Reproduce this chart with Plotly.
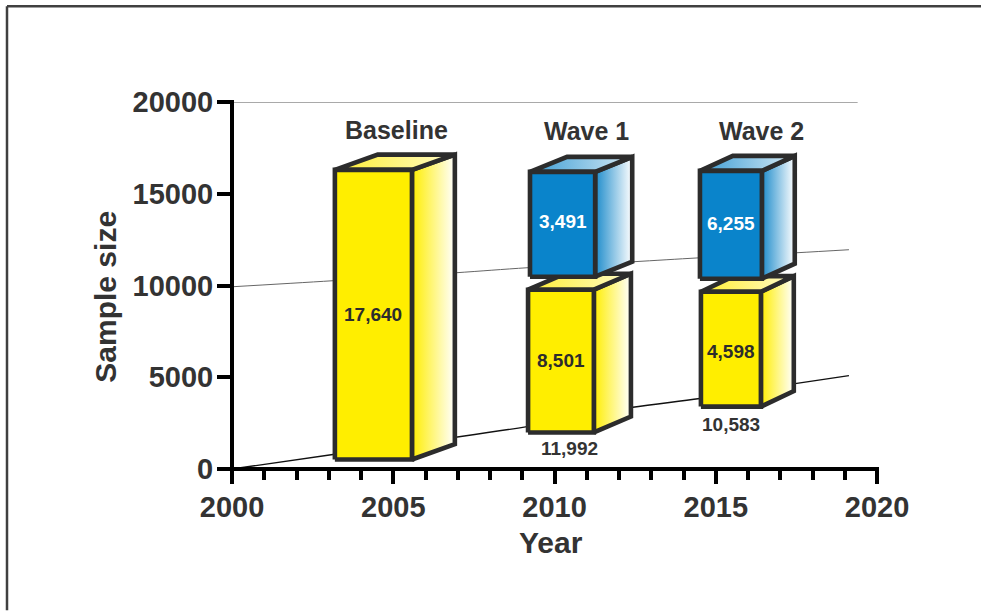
import plotly.graph_objects as go

# Canvas and plot-area placement (pixels)
WIDTH, HEIGHT = 981, 611
LEFT, RIGHT, TOP, BOTTOM = 232, 877, 102, 469.5

# Axis ticks
year_ticks = [2000, 2005, 2010, 2015, 2020]
size_ticks = [0, 5000, 10000, 15000, 20000]
size_tick_labels = ["0", "5000", "10000", "15000", "20000"]

# Receding guide lines of the pseudo-3D floor and walls (year, sample size)
floor_years = [2000, 2003.13, 2009.15, 2012.37, 2014.51, 2017.46, 2019.13]
floor_sizes = [0, 790, 2310, 3350, 3840, 4650, 5090]
mid_years = [2000, 2003.13, 2006.91, 2009.18, 2012.4, 2014.51, 2017.46, 2019.13]
mid_sizes = [9930, 10260, 10690, 10970, 11290, 11510, 11780, 11950]
top_years = [2000, 2019.4]
top_sizes = [20000, 20000]

# Box extents against the axes. The printed counts below are the survey sample
# sizes and are not proportional to the heights of these illustrative boxes.
box_names = ["Baseline", "Wave 1 retained", "Wave 1 new", "Wave 2 retained", "Wave 2 new"]
box_year_start = [2003.19, 2009.18, 2009.24, 2014.54, 2014.51]
box_year_end = [2005.58, 2011.22, 2011.26, 2016.40, 2016.43]
box_size_low = [520, 1990, 10480, 3400, 10370]
box_size_high = [16300, 9770, 16190, 9660, 16245]
box_depth_years = [1.33, 1.15, 1.15, 1.02, 1.02]
box_depth_sizes = [830, 870, 820, 850, 820]
box_kinds = ["yellow", "yellow", "blue", "yellow", "blue"]

# Printed counts inside the boxes and totals underneath
count_labels = ["17,640", "8,501", "3,491", "4,598", "6,255"]
count_sizes = [8400, 5940, 13470, 6390, 13360]
total_labels = ["11,992", "10,583"]
total_years = [2010.45, 2015.48]
total_sizes = [1100, 2450]

# Group headings
group_labels = ["Baseline", "Wave 1", "Wave 2"]
group_years = [2005.1, 2011.0, 2016.43]
group_sizes = [18500, 18400, 18400]

# Axis titles
year_title_at = 2009.89
size_title_at = 9390

OUTLINE = "#2c2c2c"
TEXT = "#333333"
FONT = "Liberation Sans"
PALETTE = {
    "yellow": {"front": "#FFEE00", "side": "#FFEE00", "top_a": "#FFEE33", "top_b": "#FFFBC8", "text": "#2c2c2c"},
    "blue": {"front": "#0A84CB", "side": "#1E8CCB", "top_a": "#3C9CD3", "top_b": "#D5EAF5", "text": "#FFFFFF"},
}

fig = go.Figure()


def guide(xs, ys, color, width):
    fig.add_trace(go.Scatter(x=xs, y=ys, mode="lines", hoverinfo="skip",
                             line=dict(color=color, width=width, shape="spline")))


def face(xs, ys, name, color=None, gradient=None):
    style = dict(fillgradient=gradient) if gradient else dict(fillcolor=color)
    fig.add_trace(go.Scatter(x=xs, y=ys, mode="lines", fill="toself", name=name,
                             line=dict(color=OUTLINE, width=4.6), hoverinfo="skip", **style))


guide(top_years, top_sizes, "#555555", 1)
guide(mid_years, mid_sizes, "#666666", 1)
guide(floor_years, floor_sizes, "#111111", 1.4)

for i, name in enumerate(box_names):
    x0, x1 = box_year_start[i], box_year_end[i]
    y0, y1 = box_size_low[i], box_size_high[i]
    dx, dy = box_depth_years[i], box_depth_sizes[i]
    colors = PALETTE[box_kinds[i]]
    # Side face fades to white towards its far edge
    face([x1, x1 + dx, x1 + dx, x1, x1], [y0, y0 + dy, y1 + dy, y1, y0], name,
         gradient=dict(type="horizontal", colorscale=[[0, colors["side"]], [1, "#FFFFFF"]]))
    # Top face
    face([x0, x0 + dx, x1 + dx, x1, x0], [y1, y1 + dy, y1 + dy, y1, y1], name,
         gradient=dict(type="horizontal", colorscale=[[0, colors["top_a"]], [1, colors["top_b"]]]))
    # Front face
    face([x0, x1, x1, x0, x0], [y0, y0, y1, y1, y0], name, color=colors["front"])

plot_w = RIGHT - LEFT
plot_h = BOTTOM - TOP
tick_font = dict(family=FONT, size=29, weight=700, color=TEXT)
title_font = dict(family=FONT, size=30, weight=700, color=TEXT)

annotations = []
for i, text in enumerate(count_labels):
    annotations.append(dict(x=(box_year_start[i] + box_year_end[i]) / 2, y=count_sizes[i], text=text,
                            showarrow=False, font=dict(family=FONT, size=19, weight=700,
                                                       color=PALETTE[box_kinds[i]]["text"])))
for year, size, text in zip(total_years, total_sizes, total_labels):
    annotations.append(dict(x=year, y=size, text=text, showarrow=False,
                            font=dict(family=FONT, size=19, weight=700, color=TEXT)))
for year, size, text in zip(group_years, group_sizes, group_labels):
    annotations.append(dict(x=year, y=size, text=text, showarrow=False,
                            font=dict(family=FONT, size=25, weight=700, color=TEXT)))
annotations.append(dict(x=year_title_at, xref="x", y=(BOTTOM - 543) / plot_h, yref="paper", text="Year",
                        xanchor="center", yanchor="middle", showarrow=False, font=title_font))
annotations.append(dict(x=(106 - LEFT) / plot_w, xref="paper", y=size_title_at, yref="y", text="Sample size",
                        xanchor="center", yanchor="middle", textangle=-90, showarrow=False, font=title_font))

# Open frame: a rule along the left and top edges of the page
frame_x = (7 - LEFT) / plot_w
frame_y = (BOTTOM - 6) / plot_h
# half an axis stroke, so the axis lines run through the ends of the ticks
cap_x = 2 / plot_w
cap_y = 2 / plot_h
shapes = [
    dict(type="line", xref="paper", yref="paper", x0=frame_x, x1=(WIDTH - LEFT) / plot_w,
         y0=frame_y, y1=frame_y, line=dict(color="#404040", width=2.5)),
    dict(type="line", xref="paper", yref="paper", x0=frame_x, x1=frame_x,
         y0=frame_y, y1=(BOTTOM - HEIGHT) / plot_h, line=dict(color="#404040", width=2.5)),
    # Axis lines centred on the 2000 and 0 ticks
    dict(type="line", xref="paper", yref="paper", x0=-cap_x, x1=1 + cap_x, y0=0, y1=0,
         line=dict(color="#000000", width=4)),
    dict(type="line", xref="paper", yref="paper", x0=0, x1=0, y0=-cap_y, y1=1 + cap_y,
         line=dict(color="#000000", width=4)),
]

fig.update_layout(
    width=WIDTH, height=HEIGHT,
    margin=dict(l=LEFT, r=WIDTH - RIGHT, t=TOP, b=HEIGHT - BOTTOM, pad=0),
    paper_bgcolor="white", plot_bgcolor="white",
    showlegend=False, annotations=annotations, shapes=shapes,
    xaxis=dict(
        range=[2000, 2020], tickvals=year_ticks, ticks="outside", ticklen=14, tickwidth=4,
        tickcolor="#000000", showline=False, showgrid=False,
        zeroline=False, tickfont=tick_font, anchor="y", ticklabelstandoff=-2,
        minor=dict(dtick=1, ticks="outside", ticklen=10, tickwidth=3.5, tickcolor="#000000", showgrid=False),
    ),
    yaxis=dict(
        range=[0, 20000], tickvals=size_ticks, ticktext=size_tick_labels, ticks="outside", ticklen=14,
        tickwidth=4, tickcolor="#000000", showline=False, showgrid=False,
        zeroline=False, tickfont=tick_font, anchor="x", ticklabelstandoff=-2,
    ),
)

fig.write_html("out.html")
